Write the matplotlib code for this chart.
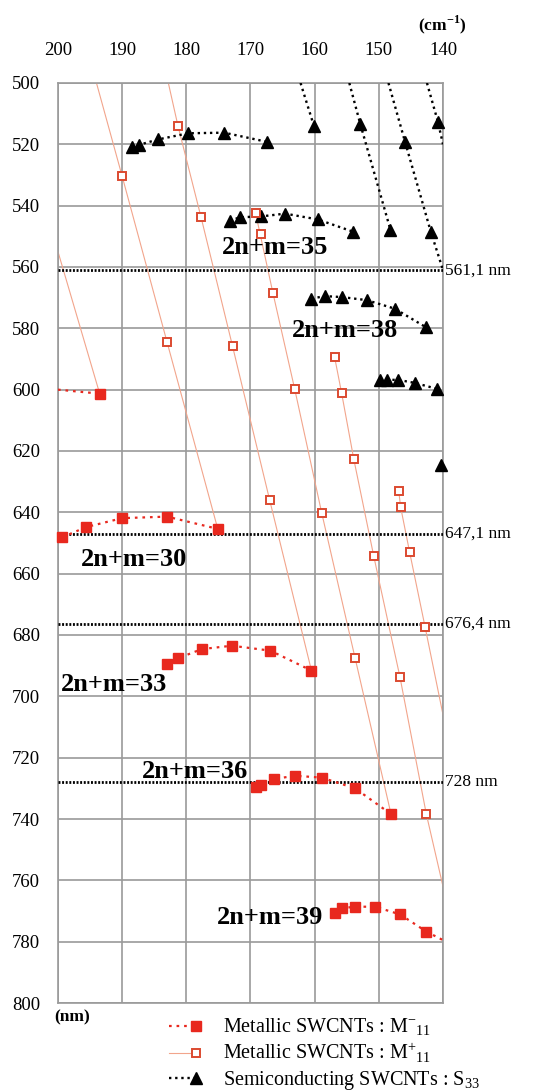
import numpy as np
import matplotlib
matplotlib.use("Agg")
import matplotlib.pyplot as plt
from matplotlib.lines import Line2D
from matplotlib.legend_handler import HandlerLine2D

plt.rcParams['font.family'] = ['Liberation Serif', 'DejaVu Serif']
plt.rcParams['mathtext.fontset'] = 'custom'
plt.rcParams['mathtext.rm'] = 'Liberation Serif'
plt.rcParams['mathtext.bf'] = 'Liberation Serif:bold'

## Data: Raman shift (cm-1) vs excitation wavelength (nm)

# Metallic M-11 (filled squares), one list per 2n+m family
m27_x, m27_y = [193.5], [601.3]
m30_x = [199.3, 195.6, 190.0, 183.0, 175.1]
m30_y = [648.1, 644.8, 641.9, 641.4, 645.4]
m33_x = [183.0, 181.3, 177.6, 172.9, 166.9, 160.5]
m33_y = [689.5, 687.6, 684.6, 683.5, 685.1, 691.6]
m36_x = [169.2, 168.3, 166.4, 163.1, 158.9, 153.7, 148.1]
m36_y = [729.7, 729.0, 727.0, 725.9, 726.5, 730.0, 738.4]
m39_x = [156.9, 155.8, 153.7, 150.6, 146.7, 142.6]
m39_y = [770.5, 769.1, 768.6, 768.6, 771.1, 776.7]
# dotted guides running out of the frame
m27_tail_x, m27_tail_y = [200.0, 193.5], [600.0, 601.3]
m39_tail_x, m39_tail_y = [142.6, 140.0], [776.7, 779.5]

# Metallic M+11 (open squares)
mp_x = [181.3, 190.0, 177.7, 169.2, 168.3, 166.5, 183.0, 172.8, 156.9, 163.1, 155.8,
        153.9, 146.9, 167.0, 146.6, 158.9, 150.8, 145.2, 142.8, 153.7, 146.7, 142.6]
mp_y = [514.0, 530.4, 543.8, 542.5, 549.4, 568.5, 584.5, 585.8, 589.3, 599.9, 601.1,
        622.7, 633.0, 636.1, 638.3, 640.2, 654.2, 653.0, 677.3, 687.5, 693.8, 738.4]

# thin guide lines through the M+11 points
guideA_x, guideA_y = [194.0, 190.0, 183.0, 175.1], [500.0, 530.4, 584.5, 645.4]
guideB_x, guideB_y = [182.8, 181.3, 177.7, 172.8, 167.0, 160.5], [500.0, 514.0, 543.8, 585.8, 636.1, 691.6]
guideC_x, guideC_y = [169.2, 166.5, 163.1, 158.9, 153.7, 148.1], [542.5, 568.5, 599.9, 640.2, 687.5, 738.4]
guideD_x, guideD_y = [156.9, 155.8, 153.9, 150.8, 146.7, 142.6, 140.0], [589.3, 601.1, 622.7, 654.2, 693.8, 738.4, 762.0]
guideE_x, guideE_y = [146.9, 146.6, 145.2, 142.8, 140.0], [633.0, 638.3, 653.0, 677.3, 706.0]
guideF_x, guideF_y = [200.0, 193.5], [555.0, 601.3]

# Semiconducting S33 (triangles)
s32_x = [188.5, 187.4, 184.4, 179.7, 174.1, 167.4]
s32_y = [520.8, 520.2, 518.4, 516.4, 516.2, 519.2]
s35_x = [173.2, 171.7, 168.3, 164.6, 159.5, 154.0]
s35_y = [545.0, 543.8, 543.5, 542.6, 544.5, 548.5]
s38_x = [160.5, 158.4, 155.8, 151.9, 147.5, 142.7]
s38_y = [570.3, 569.5, 569.8, 570.8, 573.6, 579.6]
s41_x = [149.8, 148.7, 147.0, 144.4, 141.0]
s41_y = [597.0, 596.8, 596.8, 597.8, 599.7]
s_lone_x, s_lone_y = [140.3], [624.5]
# steep dotted branches
st1_x, st1_y = [162.2, 160.1], [500.0, 514.1]
st2_x, st2_y = [154.6, 152.9, 148.2], [500.0, 513.3, 547.8]
st3_x, st3_y = [148.5, 145.9, 141.9, 140.0], [500.0, 519.3, 548.5, 561.0]
st4_x, st4_y = [142.5, 140.8, 140.0], [500.0, 512.6, 520.0]
st_pts_x = [160.1, 152.9, 148.2, 145.9, 141.9, 140.8]
st_pts_y = [514.1, 513.3, 547.8, 519.3, 548.5, 512.6]

# laser lines
laser_nm = [561.1, 647.1, 676.4, 728.0]
laser_labels = ["561,1 nm", "647,1 nm", "676,4 nm", "728 nm"]

# family labels
fam_labels = ["2n+m=35", "2n+m=38", "2n+m=30", "2n+m=33", "2n+m=36", "2n+m=39"]
fam_x = [166.2, 155.2, 188.2, 191.3, 178.6, 166.9]
fam_y = [553.5, 580.8, 655.5, 696.0, 724.6, 772.1]

## Styles
RED = "#e8281e"
RED_EDGE = "#dc4a30"
SALMON = "#f2a58c"
m_dots = (0, (1.2, 2.2))
s_dots = (0, (1.0, 1.6))


class EndMarker(HandlerLine2D):
    # legend handle with the marker only at the right end
    def create_artists(self, *args, **kwargs):
        arts = super().create_artists(*args, **kwargs)
        for a in arts:
            a.set_markevery([len(a.get_xdata()) - 1])
        return arts


fig = plt.figure(figsize=(5.48, 10.92), dpi=100)
ax = fig.add_axes([0.1058, 0.0815, 0.7026, 0.8425])

# M+ guides
for gx, gy in [(guideA_x, guideA_y), (guideB_x, guideB_y), (guideC_x, guideC_y),
               (guideD_x, guideD_y), (guideE_x, guideE_y), (guideF_x, guideF_y)]:
    ax.plot(gx, gy, color=SALMON, lw=0.8, zorder=2)

# laser lines
for y, lab in zip(laser_nm, laser_labels):
    ax.axhline(y, color="black", lw=2.0, ls=(0, (0.7, 0.6)), zorder=3)
    ax.text(1.006, y, lab, transform=ax.get_yaxis_transform(),
            ha="left", va="center", fontsize=12.5)

# S33
for sx, sy in [(s32_x, s32_y), (s35_x, s35_y), (s38_x, s38_y), (s41_x, s41_y),
               (st1_x, st1_y), (st2_x, st2_y), (st3_x, st3_y), (st4_x, st4_y)]:
    ax.plot(sx, sy, color="black", lw=1.7, ls=s_dots, zorder=3)
for sx, sy in [(s32_x, s32_y), (s35_x, s35_y), (s38_x, s38_y), (s41_x, s41_y),
               (st_pts_x, st_pts_y), (s_lone_x, s_lone_y)]:
    ax.plot(sx, sy, ls="none", marker="^", ms=8, color="black", zorder=5, clip_on=False)

# M-
for mx, my in [(m30_x, m30_y), (m33_x, m33_y), (m36_x, m36_y), (m39_x, m39_y),
               (m27_tail_x, m27_tail_y), (m39_tail_x, m39_tail_y)]:
    ax.plot(mx, my, color=RED, lw=1.6, ls=m_dots, zorder=4)
for mx, my in [(m27_x, m27_y), (m30_x, m30_y), (m33_x, m33_y), (m36_x, m36_y), (m39_x, m39_y)]:
    ax.plot(mx, my, ls="none", marker="s", ms=7, color=RED, mec=RED, zorder=6, clip_on=False)

# M+
ax.plot(mp_x, mp_y, ls="none", marker="s", ms=6.3, mfc="white", mec=RED_EDGE, mew=1.4, zorder=6)

for t, x, y in zip(fam_labels, fam_x, fam_y):
    ax.text(x, y, t, ha="center", va="center", fontsize=19, fontweight="bold", zorder=7)

ax.set_xlim(200, 140)
ax.set_ylim(800, 500)
ax.set_xticks(np.arange(200, 139, -10))
ax.set_yticks(np.arange(500, 801, 20))
ax.xaxis.tick_top()
ax.tick_params(axis="both", length=0, labelsize=13.5)
ax.tick_params(axis="x", pad=17)
ax.tick_params(axis="y", pad=13)
ax.grid(True, color="#9a9a9a", lw=1.2)
ax.set_axisbelow(True)
for sp in ax.spines.values():
    sp.set_color("#9a9a9a")
    sp.set_linewidth(1.2)

fig.text(0.807, 0.977, r"(cm$^{\mathbf{-1}}$)", ha="center", va="center",
         fontsize=12.5, fontweight="bold")
fig.text(0.131, 0.068, "(nm)", ha="center", va="center", fontsize=12.5, fontweight="bold")

handles = [
    Line2D([], [], color=RED, lw=1.6, ls=m_dots, marker="s", ms=7),
    Line2D([], [], color=SALMON, lw=0.8, marker="s", ms=6.3, mfc="white", mec=RED_EDGE, mew=1.4),
    Line2D([], [], color="black", lw=1.7, ls=s_dots, marker="^", ms=8),
]
labels = [r"Metallic SWCNTs : M$^{-}$$_{11}$", r"Metallic SWCNTs : M$^{+}$$_{11}$",
          r"Semiconducting SWCNTs : S$_{33}$"]
fig.legend(handles, labels, loc="upper left", bbox_to_anchor=(0.298, 0.069),
           frameon=False, numpoints=2, fontsize=14.5, handlelength=1.9,
           handletextpad=1.05, labelspacing=0.17, borderpad=0, borderaxespad=0,
           handler_map={Line2D: EndMarker(numpoints=2)})

fig.savefig("out.png", dpi=100)
